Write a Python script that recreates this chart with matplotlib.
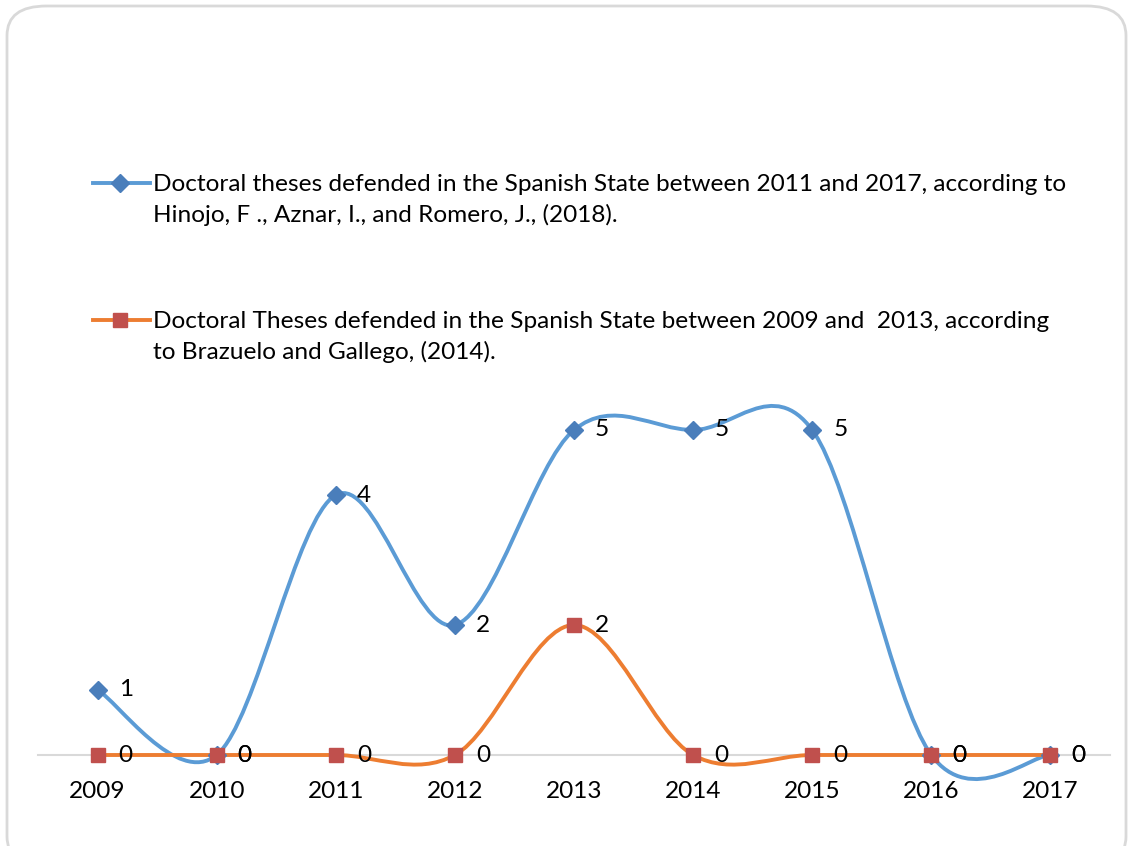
import numpy as np
import matplotlib.pyplot as plt
from matplotlib.path import Path
from matplotlib.patches import PathPatch, FancyBboxPatch
from matplotlib.lines import Line2D

plt.rcParams['font.family'] = ['Lato', 'DejaVu Sans']

years = ['2009', '2010', '2011', '2012', '2013', '2014', '2015', '2016', '2017']
hinojo = [1, 0, 4, 2, 5, 5, 5, 0, 0]
brazuelo = [0, 0, 0, 0, 2, 0, 0, 0, 0]

label_hinojo = ('Doctoral theses defended in the Spanish State between 2011 and 2017, according to\n'
                'Hinojo, F ., Aznar, I., and Romero, J., (2018).')
label_brazuelo = ('Doctoral Theses defended in the Spanish State between 2009 and  2013, according\n'
                  'to Brazuelo and Gallego, (2014).')

blue_line, blue_mark = '#5B9BD5', '#4A7EBB'
orange_line, orange_mark = '#ED7D31', '#C0504D'
FS = 17.6
LW = 2.8


def smooth_path(xs, ys, k=1 / 6):
    # bezier smoothing through every point (spreadsheet-style smoothed line)
    pts = np.column_stack([xs, ys]).astype(float)
    n = len(pts)
    verts = [pts[0]]
    codes = [Path.MOVETO]
    for i in range(n - 1):
        p0 = pts[i - 1] if i > 0 else pts[i]
        p1, p2 = pts[i], pts[i + 1]
        p3 = pts[i + 2] if i + 2 < n else pts[i + 1]
        verts += [p1 + k * (p2 - p0), p2 - k * (p3 - p1), p2]
        codes += [Path.CURVE4] * 3
    return Path(verts, codes)


fig = plt.figure(figsize=(11.28, 8.46), dpi=100)

# rounded chart frame
frame = FancyBboxPatch((7 / 1128, -20 / 846), 1119 / 1128, 860 / 846,
                       boxstyle='round,pad=0,rounding_size=0.035',
                       transform=fig.transFigure, facecolor='none',
                       edgecolor='#D9D9D9', linewidth=2, zorder=-1)
fig.patches.append(frame)

ax = fig.add_axes([38 / 1128, 1 - 820 / 846, 1072 / 1128, 455 / 846])
ax.set_facecolor('none')
x = np.arange(len(years))
ax.set_xlim(-0.5, len(years) - 0.5)
ax.set_ylim(-1, 6)

for s in ['top', 'right', 'left']:
    ax.spines[s].set_visible(False)
ax.spines['bottom'].set_position(('data', 0))
ax.spines['bottom'].set_color('#D9D9D9')
ax.spines['bottom'].set_linewidth(1.5)
ax.spines['bottom'].set_zorder(1)
ax.set_yticks([])
ax.set_xticks(x)
ax.set_xticklabels(years, fontsize=FS)
ax.tick_params(axis='x', length=0, pad=19)

for vals, lc, mc, mk, ms in [(hinojo, blue_line, blue_mark, 'D', 9.5),
                             (brazuelo, orange_line, orange_mark, 's', 10.5)]:
    ax.add_patch(PathPatch(smooth_path(x, vals), facecolor='none', edgecolor=lc,
                           linewidth=LW, clip_on=False, zorder=2))
    ax.plot(x, vals, linestyle='none', marker=mk, markersize=ms, color=mc,
            clip_on=False, zorder=3)
    for xi, v in zip(x, vals):
        ax.annotate(str(v), (xi, v), xytext=(21, 0), textcoords='offset pixels',
                    ha='left', va='center', fontsize=FS, zorder=4)

# legend entries
for y_px, lc, mc, mk, ms, text in [(183, blue_line, blue_mark, 'D', 9.5, label_hinojo),
                                   (320, orange_line, orange_mark, 's', 10.5, label_brazuelo)]:
    yf = 1 - y_px / 846
    fig.add_artist(Line2D([93 / 1128, 150 / 1128], [yf, yf], color=lc, linewidth=LW,
                          transform=fig.transFigure))
    fig.add_artist(Line2D([120 / 1128], [yf], marker=mk, markersize=ms, color=mc,
                          linestyle='none', transform=fig.transFigure))
    fig.text(153 / 1128, yf - 17 / 846, text, fontsize=FS, ha='left', va='center',
             linespacing=1.45)

fig.savefig('out.png', dpi=100)
